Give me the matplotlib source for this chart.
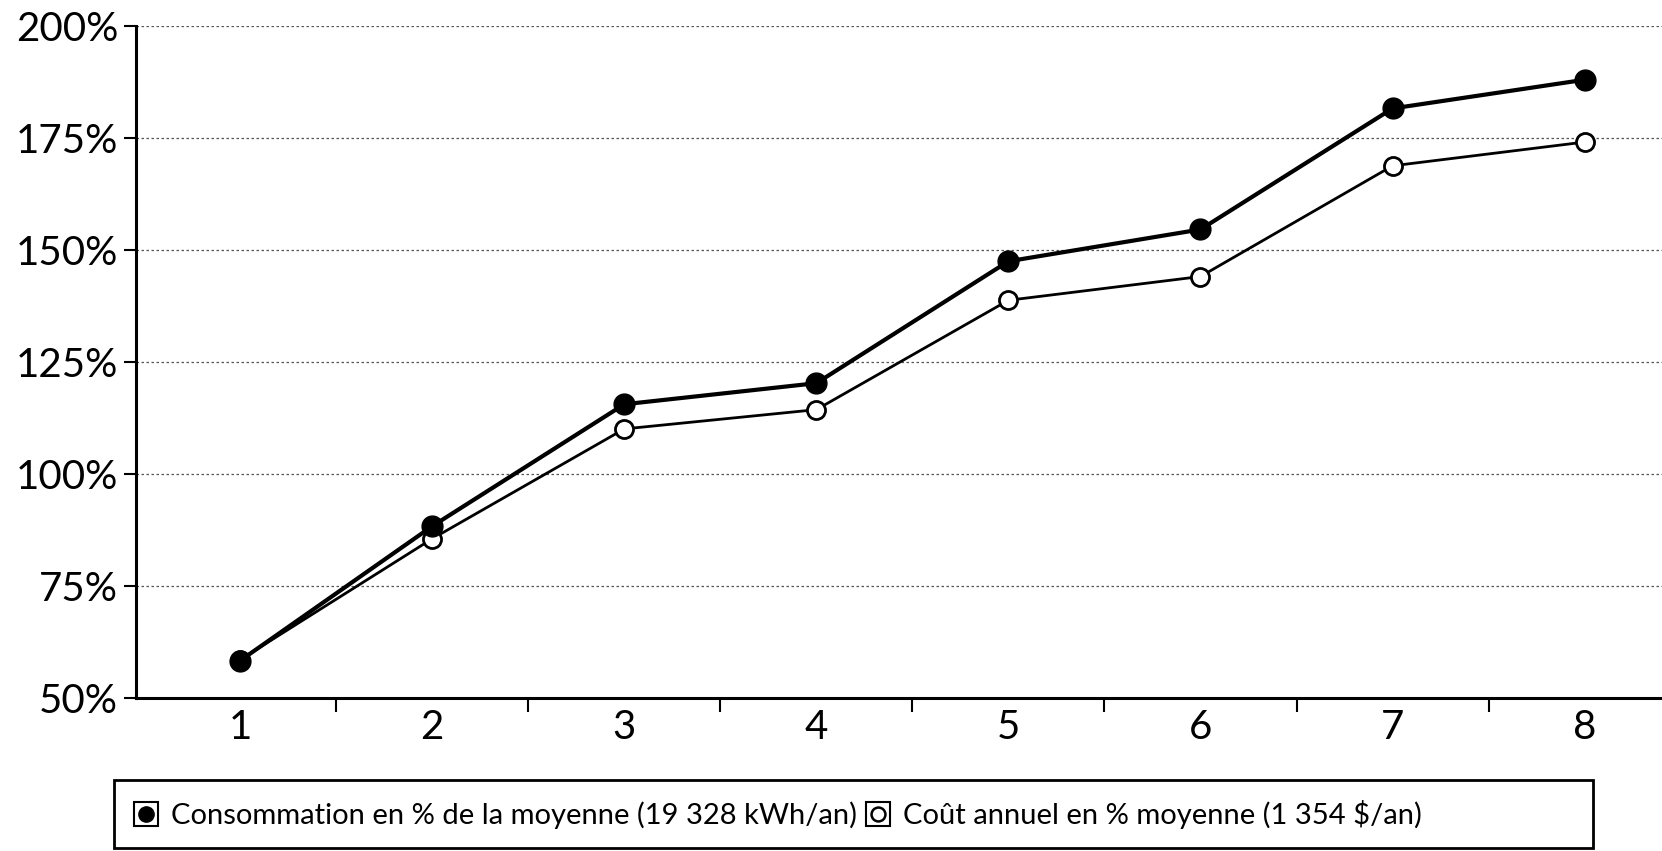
import matplotlib.pyplot as plt
from matplotlib.lines import Line2D
from matplotlib.patches import Rectangle
from matplotlib.ticker import FuncFormatter

# data
categories = [1, 2, 3, 4, 5, 6, 7, 8]
consommation = [58.3, 88.3, 115.5, 120.2, 147.4, 154.5, 181.5, 187.9]
cout = [58.5, 85.5, 110.0, 114.3, 138.7, 144.0, 168.7, 174.0]
y_ticks = [50, 75, 100, 125, 150, 175, 200]

label_conso = "Consommation en % de la moyenne (19 328 kWh/an)"
label_cout = "Coût annuel en % moyenne (1 354 $/an)"

fig = plt.figure(figsize=(16.62, 8.51), dpi=100)
ax = fig.add_axes([0.082, 0.180, 0.918, 0.790])

ax.plot(categories, cout, color='black', lw=2, marker='o',
        ms=13, mfc='white', mec='black', mew=2, zorder=3)
ax.plot(categories, consommation, color='black', lw=3, marker='o',
        ms=15, mfc='black', mec='black', zorder=4)

ax.set_ylim(50, 200)
ax.set_xlim(0.459, 8.403)
ax.set_yticks(y_ticks)
ax.yaxis.set_major_formatter(FuncFormatter(lambda v, p: f"{v:.0f}%"))
ax.grid(axis='y', linestyle=(0, (2, 2)), color='#555555', lw=0.9)
ax.set_axisbelow(True)

# category labels in the middle, tick marks between categories
ax.set_xticks(categories)
ax.set_xticks([c + 0.5 for c in categories[:-1]], minor=True)
ax.tick_params(axis='x', which='major', length=0, pad=8, labelsize=29)
ax.tick_params(axis='x', which='minor', length=10, width=1.5, direction='out')
ax.tick_params(axis='y', length=9, width=1.5, labelsize=29, pad=4)

for s in ['top', 'right']:
    ax.spines[s].set_visible(False)
ax.spines['left'].set_linewidth(2.2)
ax.spines['bottom'].set_linewidth(2.2)

for lbl in ax.get_xticklabels() + ax.get_yticklabels():
    lbl.set_fontfamily('Lato')

# legend in a wide box under the chart
fig.patches.append(Rectangle((0.0686, 0.004), 0.89, 0.079, transform=fig.transFigure,
                             fill=False, edgecolor='black', lw=2))
box = Line2D([], [], ls='none', marker='s', ms=17, mfc='white', mec='black', mew=1.5)
h1 = Line2D([], [], ls='none', marker='o', ms=11, mfc='black', mec='black')
h2 = Line2D([], [], ls='none', marker='o', ms=10, mfc='white', mec='black', mew=1.8)
fig.legend([(box, h1), (box, h2)], [label_conso, label_cout], ncol=2,
           loc='center left', bbox_to_anchor=(0.064, 0.043), frameon=False,
           handlelength=0.9, handletextpad=0.4, columnspacing=0.3,
           prop={'family': 'Lato', 'size': 21})

fig.savefig('out.png', dpi=100)
